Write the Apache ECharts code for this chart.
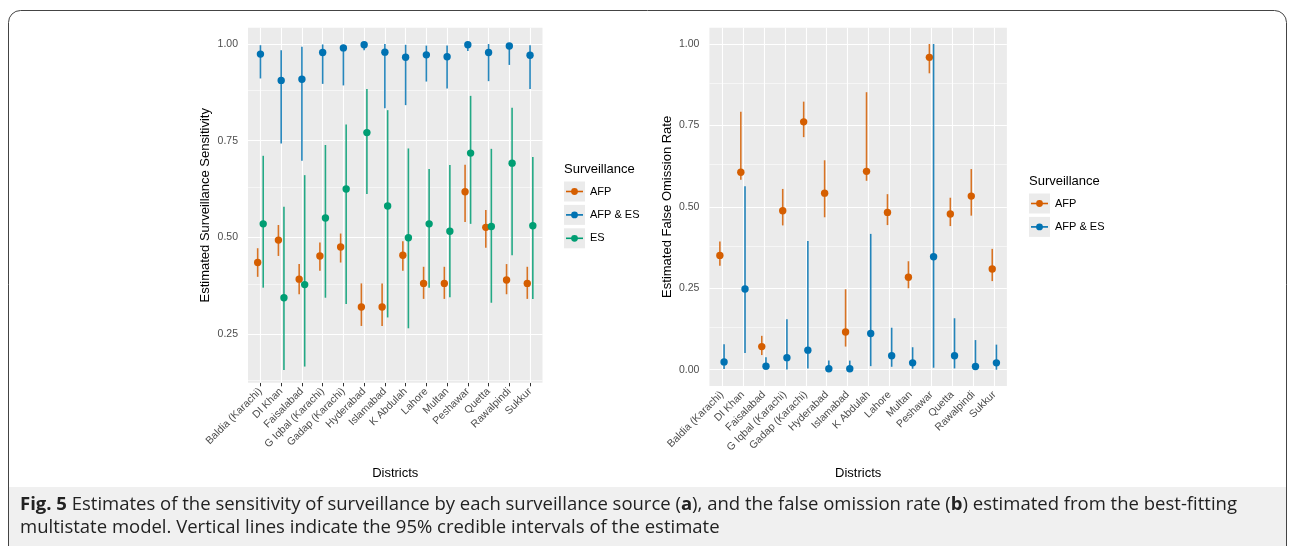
<!DOCTYPE html>
<html><head><meta charset="utf-8">
<script src="https://cdn.jsdelivr.net/npm/echarts@6/dist/echarts.min.js"></script>
<style>html,body{margin:0;padding:0;background:#fff}#c{width:1292px;height:546px}</style>
</head><body><div id="c"></div>
<script>
// ---------- data ----------
const districts = ['Baldia (Karachi)','DI Khan','Faisalabad','G Iqbal (Karachi)','Gadap (Karachi)','Hyderabad','Islamabad','K Abdulah','Lahore','Multan','Peshawar','Quetta','Rawalpindi','Sukkur'];
// [estimate, lower 95%, upper 95%]
const sensAFP = [[0.435,0.398,0.472],[0.493,0.452,0.532],[0.392,0.353,0.431],[0.452,0.414,0.487],[0.475,0.435,0.510],[0.320,0.271,0.381],[0.320,0.271,0.381],[0.454,0.414,0.490],[0.381,0.341,0.424],[0.381,0.341,0.424],[0.618,0.540,0.688],[0.526,0.473,0.571],[0.390,0.353,0.431],[0.381,0.341,0.424]];
const sensAFPES = [[0.974,0.911,0.997],[0.906,0.743,0.984],[0.909,0.698,0.993],[0.978,0.897,0.999],[0.990,0.893,0.998],[0.998,0.984,1.000],[0.979,0.834,1.000],[0.966,0.842,0.998],[0.972,0.903,0.996],[0.967,0.885,0.996],[0.998,0.982,1.000],[0.978,0.904,1.000],[0.995,0.946,1.000],[0.971,0.884,0.997]];
const sensES = [[0.535,0.370,0.711],[0.344,0.157,0.579],[0.378,0.166,0.661],[0.550,0.344,0.739],[0.625,0.328,0.792],[0.771,0.612,0.884],[0.581,0.293,0.829],[0.499,0.265,0.730],[0.535,0.370,0.677],[0.516,0.345,0.687],[0.718,0.535,0.866],[0.528,0.331,0.729],[0.692,0.454,0.835],[0.530,0.341,0.708]];
const forAFP = [[0.351,0.319,0.394],[0.606,0.583,0.792],[0.071,0.045,0.104],[0.488,0.443,0.555],[0.761,0.714,0.823],[0.542,0.468,0.643],[0.116,0.071,0.247],[0.609,0.580,0.852],[0.483,0.444,0.539],[0.284,0.250,0.333],[0.959,0.910,1.000],[0.478,0.441,0.528],[0.533,0.473,0.616],[0.309,0.272,0.371]];
const forAFPES = [[0.024,0.002,0.078],[0.248,0.051,0.563],[0.011,0.000,0.038],[0.037,0.001,0.155],[0.060,0.004,0.395],[0.003,0.000,0.028],[0.003,0.000,0.028],[0.111,0.011,0.417],[0.043,0.009,0.129],[0.021,0.003,0.069],[0.347,0.006,1.000],[0.043,0.004,0.158],[0.010,0.000,0.091],[0.021,0.000,0.077]];
const sensTicks = [0.25,0.50,0.75,1.00];
const sensMinor = [0.125,0.375,0.625,0.875];
const forTicks = [0.00,0.25,0.50,0.75,1.00];
const forMinor = [0.125,0.375,0.625,0.875];
const legendTitle = 'Surveillance';
const legendLeft = ['AFP','AFP & ES','ES'];
const legendRight = ['AFP','AFP & ES'];

// ---------- style ----------
const C_AFP = '#D55E00', C_BOTH = '#0072B2', C_ES = '#009E73';
const FONT = '"Liberation Sans", Arial, Helvetica, sans-serif';
const CAPFONT = '"Open Sans", "Noto Sans", sans-serif';
const idx = districts.map((d,i)=>i);

function rows(arr){ return arr.map((r,i)=>[i, r[0], r[1], r[2]]); }
function render(offset, color){
  return function(params, api){
    const i = api.value(0), est = api.value(1), lo = api.value(2), hi = api.value(3);
    const a = api.coord([i+offset, lo]), b = api.coord([i+offset, hi]), c = api.coord([i+offset, est]);
    return {type:'group', children:[
      {type:'line', shape:{x1:a[0],y1:a[1],x2:b[0],y2:b[1]}, style:{stroke:color, lineWidth:1.6, opacity:0.85}},
      {type:'circle', shape:{cx:c[0],cy:c[1],r:3.7}, style:{fill:color}}
    ]};
  };
}
function pointSeries(arr, offset, color, gi){
  return {type:'custom', xAxisIndex:gi, yAxisIndex:gi, data:rows(arr), renderItem:render(offset,color), encode:{x:0,y:1}, z:5, silent:true, clip:false};
}
function gridSeries(gi, majY, minY){
  const d = [];
  idx.forEach(i=>d.push({xAxis:i, lineStyle:{width:1.1}}));
  majY.forEach(v=>d.push({yAxis:v, lineStyle:{width:1.1}}));
  minY.forEach(v=>d.push({yAxis:v, lineStyle:{width:0.55}}));
  return {type:'scatter', xAxisIndex:gi, yAxisIndex:gi, data:[], z:1, silent:true,
    markLine:{silent:true, symbol:['none','none'], label:{show:false}, animation:false,
      lineStyle:{color:'#FFFFFF', type:'solid'}, data:d}};
}
function xAxis(gi, gap){
  return {type:'value', gridIndex:gi, min:-0.6, max:13.6,
    axisLine:{show:false}, splitLine:{show:false},
    axisTick:{show:true, customValues:idx, length:3.5, lineStyle:{color:'#333333', width:1}},
    axisLabel:{customValues:idx, rotate:45, margin:7, color:'#4D4D4D', fontSize:10.5, fontFamily:FONT,
      formatter:v=>districts[Math.round(v)]},
    name:'Districts', nameLocation:'middle', nameGap:gap,
    nameTextStyle:{color:'#000', fontSize:13, fontFamily:FONT}};
}
function yAxis(gi, min, max, ticks, name, gap){
  return {type:'value', gridIndex:gi, min:min, max:max,
    axisLine:{show:false}, splitLine:{show:false},
    axisTick:{show:true, customValues:ticks, length:3.5, lineStyle:{color:'#333333', width:1}},
    axisLabel:{customValues:ticks, margin:10, color:'#4D4D4D', fontSize:10.5, fontFamily:FONT, formatter:v=>v.toFixed(2)},
    name:name, nameLocation:'middle', nameGap:gap,
    nameTextStyle:{color:'#000', fontSize:13, fontFamily:FONT}};
}
function legendGraphics(x, yTitle, labels, colors){
  const g = [{type:'text', left:x, top:yTitle-8, style:{text:legendTitle, fill:'#000', font:'13px '+FONT}}];
  labels.forEach((lab,k)=>{
    const cy = yTitle + 20.5 + k*23.4;
    g.push({type:'rect', shape:{x:x, y:cy-10, width:21, height:20}, style:{fill:'#EBEBEB'}});
    g.push({type:'line', shape:{x1:x+2, y1:cy, x2:x+19, y2:cy}, style:{stroke:colors[k], lineWidth:1.6}});
    g.push({type:'circle', shape:{cx:x+10.5, cy:cy, r:3.4}, style:{fill:colors[k]}});
    g.push({type:'text', x:x+26, y:cy, style:{text:lab, fill:'#000', font:'11px '+FONT, verticalAlign:'middle'}});
  });
  return g;
}

const chart = echarts.init(document.getElementById('c'), null, {renderer:'canvas'});
const graphics = [
  {type:'rect', z:-10, shape:{x:8.5, y:10.5, width:1278, height:600, r:12}, style:{fill:'#FFFFFF', stroke:'#444444', lineWidth:1}},
  {type:'rect', z:-9, shape:{x:9, y:487, width:1277, height:70}, style:{fill:'#F0F0F0'}},
  {type:'text', x:20, y:505, z:5, style:{
    text:'{b|Fig. 5} Estimates of the sensitivity of surveillance by each surveillance source ({b|a}), and the false omission rate ({b|b}) estimated from the best-fitting',
    fill:'#222', font:'18.5px '+CAPFONT, verticalAlign:'middle',
    rich:{b:{fontWeight:'bold', fontSize:18.5, fontFamily:CAPFONT, fill:'#222'}}}},
  {type:'text', x:20, y:528, z:5, style:{
    text:'multistate model. Vertical lines indicate the 95% credible intervals of the estimate',
    fill:'#222', font:'18.5px '+CAPFONT, verticalAlign:'middle'}}
].concat(legendGraphics(564, 171, legendLeft, [C_AFP,C_BOTH,C_ES]))
 .concat(legendGraphics(1029, 183, legendRight, [C_AFP,C_BOTH]));

const dL = 0.4/3, dR = 0.1;
chart.setOption({
  animation:false,
  backgroundColor:'#FFFFFF',
  grid:[
    {left:248, top:27.8, width:294.5, height:355, show:true, backgroundColor:'#EBEBEB', borderWidth:0},
    {left:709.4, top:27.7, width:297.5, height:358.3, show:true, backgroundColor:'#EBEBEB', borderWidth:0}
  ],
  xAxis:[xAxis(0, 84), xAxis(1, 81)],
  yAxis:[yAxis(0, 0.124, 1.042, sensTicks, 'Estimated Surveillance Sensitivity', 36),
         yAxis(1, -0.05, 1.05, forTicks, 'Estimated False Omission Rate', 35)],
  graphic:graphics,
  series:[
    gridSeries(0, sensTicks, sensMinor),
    gridSeries(1, forTicks, forMinor),
    pointSeries(sensAFP, -dL, C_AFP, 0),
    pointSeries(sensAFPES, 0, C_BOTH, 0),
    pointSeries(sensES, dL, C_ES, 0),
    pointSeries(forAFP, -dR, C_AFP, 1),
    pointSeries(forAFPES, dR, C_BOTH, 1)
  ]
});
</script></body></html>
